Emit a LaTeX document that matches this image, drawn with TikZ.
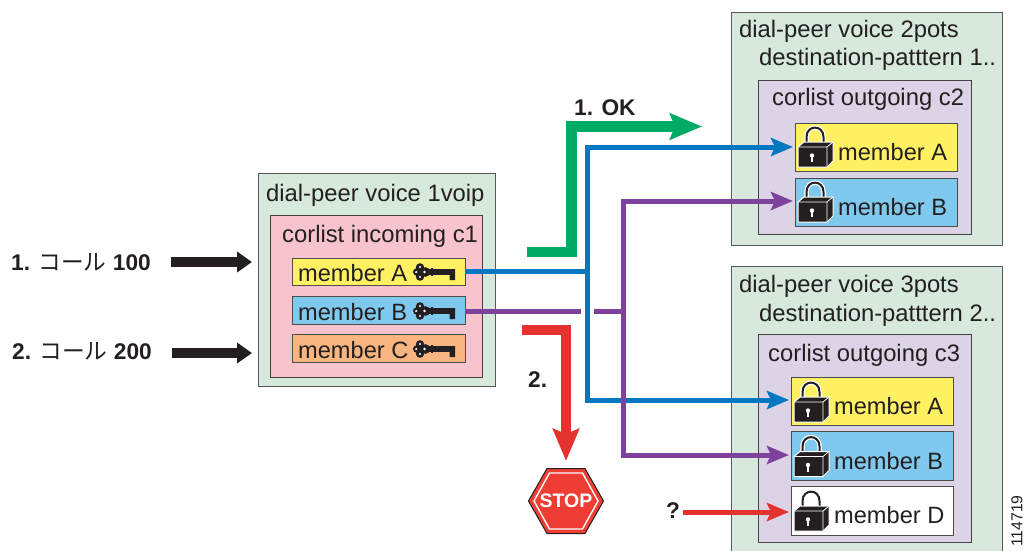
\documentclass[tikz,border=0pt]{standalone}
\usepackage{fontspec}
\setmainfont{Liberation Sans}
\newfontfamily\cjk{Noto Sans CJK JP}[BoldFont={Noto Sans CJK JP}]
\usetikzlibrary{arrows.meta}
\definecolor{ink}{HTML}{231F20}
\definecolor{peerg}{HTML}{D6E9DC}
\definecolor{pinkc}{HTML}{F7C4CD}
\definecolor{lilac}{HTML}{DDD3E6}
\definecolor{yel}{HTML}{FFF162}
\definecolor{sky}{HTML}{80C9EE}
\definecolor{orng}{HTML}{F9B57F}
\definecolor{arrg}{HTML}{00AB66}
\definecolor{arrb}{HTML}{0077C1}
\definecolor{arrp}{HTML}{7D429B}
\definecolor{arrr}{HTML}{E4332E}
\definecolor{stopr}{HTML}{EE3E33}
\tikzset{
  panel/.style={draw=#1,line width=1pt,anchor=north west,inner sep=0pt,outer sep=0pt},
  peerbox/.style={panel=ink!75,fill=peerg},
  listbox/.style={panel=ink!85,fill=#1},
  memberbox/.style={panel=ink!80,fill=#1},
  label/.style={anchor=base west,inner sep=0pt,text=ink,font=\fontsize{23.6}{26}\selectfont},
  heading/.style={label,font=\fontsize{23.8}{26}\selectfont},
  boldlab/.style={anchor=base west,inner sep=0pt,text=ink,font=\fontsize{22.7}{26}\selectfont\bfseries},
  wire/.style={line width=5pt,draw=#1,shorten >=2pt,-{Stealth[length=22pt,width=18pt,inset=4pt,fill=#1]},line join=miter},
  wireplain/.style={line width=5pt,draw=#1},
  bigarrow/.style={line width=10.5pt,draw=#1,line join=miter,-{Stealth[length=32pt,width=26pt,inset=5pt,fill=#1]}},
  blackarrow/.style={line width=10pt,draw=ink,-{Triangle[length=15pt,width=20pt,fill=ink]}},
}
\newcommand{\boxat}[6]{%
  \pgfmathsetlengthmacro{\bw}{#5-#3}\pgfmathsetlengthmacro{\bh}{#6-#4}%
  \node[#1,minimum width=\bw,minimum height=\bh] (#2) at (#3,#4) {};}
\newcommand{\keyicon}[2]{%
  \begin{scope}[shift={(#1,#2)}]
    \fill[ink] (7,-4.6) circle (4.2) (7,4.6) circle (4.2) (3.8,0) circle (3.8) (12.5,0) circle (4.8);
    \fill[ink] (13,-2.8) rectangle (42,2.8) (36.5,0) rectangle (42,8);
    \fill[ink] (17.5,-4) rectangle (20,4);
    \fill[white] (7,-5) circle (1.2) (7,5) circle (1.2) (3.2,0) circle (1.2) (11.5,0) circle (1.4);
  \end{scope}}
\newcommand{\lockicon}[2]{%
  \begin{scope}[shift={(#1,#2)}]
    \draw[white,line width=4.5pt] (11.5,24) -- (11.5,14) .. controls (11.5,1.5) and (28.5,1.5) .. (28.5,14) -- (28.5,24);
    \draw[ink,line width=2pt] (11.5,24) -- (11.5,14) .. controls (11.5,1.5) and (28.5,1.5) .. (28.5,14) -- (28.5,24);
    \fill[ink,draw=white,line width=1pt,line join=round] (3,24) -- (9,19) -- (38,19) -- (38,38) -- (32,44) -- (3,44) -- cycle;
    \draw[white,line width=.8pt] (3,24) -- (32,24) -- (38,19) (32,24) -- (32,44);
    \fill[white] (17,32.5) circle (2.2);
    \fill[white] (16.2,33) rectangle (17.8,39);
  \end{scope}}
\begin{document}
\begin{tikzpicture}[x=1pt,y=-1pt]
\useasboundingbox (0,0) rectangle (1025,550);
\clip (0,0) rectangle (1025,550);

% left peer
\boxat{peerbox}{peerA}{258.5}{173.5}{495}{386}
\boxat{listbox=pinkc}{listA}{270}{215}{482}{377}
\boxat{memberbox=yel}{inA}{292}{258}{465}{285}
\boxat{memberbox=sky}{inB}{292}{296}{465}{324}
\boxat{memberbox=orng}{inC}{292}{334}{465}{362}
\node[heading] (tA) at (266,201) {dial-peer voice 1voip};
\node[heading] (tB) at (282,242) {corlist incoming c1};
\node[label] (tC) at (298,281) {member A};
\node[label] (tD) at (298,320) {member B};
\node[label] (tE) at (298,358) {member C};
\keyicon{413}{272}\keyicon{413}{311}\keyicon{413}{349}

% upper right peer
\boxat{peerbox}{peerB}{731}{12}{1002}{245}
\boxat{listbox=lilac}{listB}{758.5}{80}{971}{234.5}
\boxat{memberbox=yel}{outA}{795}{123}{957}{171}
\boxat{memberbox=sky}{outB}{795}{178}{957}{226}
\node[heading] (tF) at (739,37) {dial-peer voice 2pots};
\node[heading] (tG) at (759,65) {destination-patttern 1..};
\node[heading] (tH) at (772,105) {corlist outgoing c2};
\node[label] (tI) at (838,160) {member A};
\node[label] (tJ) at (838,215) {member B};
\lockicon{795}{123}\lockicon{795}{178}

% lower right peer
\boxat{peerbox}{peerC}{731}{266}{1002}{560}
\boxat{listbox=lilac}{listC}{758.5}{334}{971}{542}
\boxat{memberbox=yel}{outC}{791}{377}{953}{425}
\boxat{memberbox=sky}{outD}{791}{431.5}{953}{480}
\boxat{memberbox=white}{outE}{791}{486.5}{953}{535}
\node[heading] (tK) at (739,292) {dial-peer voice 3pots};
\node[heading] (tL) at (759,321) {destination-patttern 2..};
\node[heading] (tM) at (768,361) {corlist outgoing c3};
\node[label] (tN) at (834,414) {member A};
\node[label] (tO) at (834,469) {member B};
\node[label] (tP) at (834,523) {member D};
\lockicon{791}{378}\lockicon{791}{432.5}\lockicon{791}{487}

% left labels and arrows
\node[boldlab] (call1) at (11,270) {1. {\cjk\mdseries コール} 100};
\node[boldlab] (call2) at (12,359) {2. {\cjk\mdseries コール} 200};
\coordinate (bs1) at (171,262); \coordinate (be1) at (252,262);
\coordinate (bs2) at (172,353); \coordinate (be2) at (252,353);
\draw[blackarrow] (bs1) -- (be1);
\draw[blackarrow] (bs2) -- (be2);

% green OK arrow
\coordinate (gs) at (527,252); \coordinate (gm1) at (571.5,252);
\coordinate (gm2) at (571.5,126.5); \coordinate (ge) at (702,126.5);
\draw[bigarrow=arrg] (gs) -- (gm1) -- (gm2) -- (ge);
\node[boldlab] (ok) at (574,115) {1. OK};

% blue wires
\coordinate (bj) at (587,271.5); \coordinate (bt) at (587,147); \coordinate (bb) at (587,400);
\draw[wireplain=arrb] (inA.east |- bj) -- ([xshift=2.5pt]bj);
\draw[wire=arrb] (bj) -- (bt) -- (outA.west |- bt);
\draw[wire=arrb] (bj) -- (bb) -- (outC.west |- bb);

% purple wires
\coordinate (pg1) at (581,311); \coordinate (pg2) at (594,311);
\coordinate (pj) at (623.5,311); \coordinate (pt) at (623.5,201); \coordinate (pb) at (623.5,455);
\draw[wireplain=arrp] (inB.east |- pg1) -- (pg1);
\draw[wireplain=arrp] (pg2) -- ([xshift=2.5pt]pj);
\draw[wire=arrp] (pj) -- (pt) -- (outB.west |- pt);
\draw[wire=arrp] (pj) -- (pb) -- (outD.west |- pb);

% red arrow to stop
\coordinate (rs) at (522,330); \coordinate (rm) at (566,330); \coordinate (re) at (566,461);
\draw[bigarrow=arrr] (rs) -- (rm) -- (re);
\node[boldlab] (two) at (528,387) {2.};

% stop sign
\fill[stopr,draw=ink,line width=1pt,line join=miter] (547,468.5) -- (585,468.5) -- (603.5,501) -- (585,533.5) -- (547,533.5) -- (528.5,501) -- cycle;
\draw[white,line width=1.4pt] (549.5,473) -- (582.5,473) -- (598,501) -- (582.5,529) -- (549.5,529) -- (534,501) -- cycle;
\node[inner sep=0pt,text=white,font=\fontsize{19.5}{20}\selectfont\bfseries] (stop) at (566,501) {STOP};

% question mark arrow
\node[boldlab] (q) at (666,518) {?};
\coordinate (rq) at (683,512);
\draw[wire=arrr] (rq) -- (outE.west |- rq);

\node[rotate=90,inner sep=0pt,text=ink,font=\fontsize{15.8}{16}\selectfont] (num) at (1017,521) {114719};
\end{tikzpicture}
\end{document}
